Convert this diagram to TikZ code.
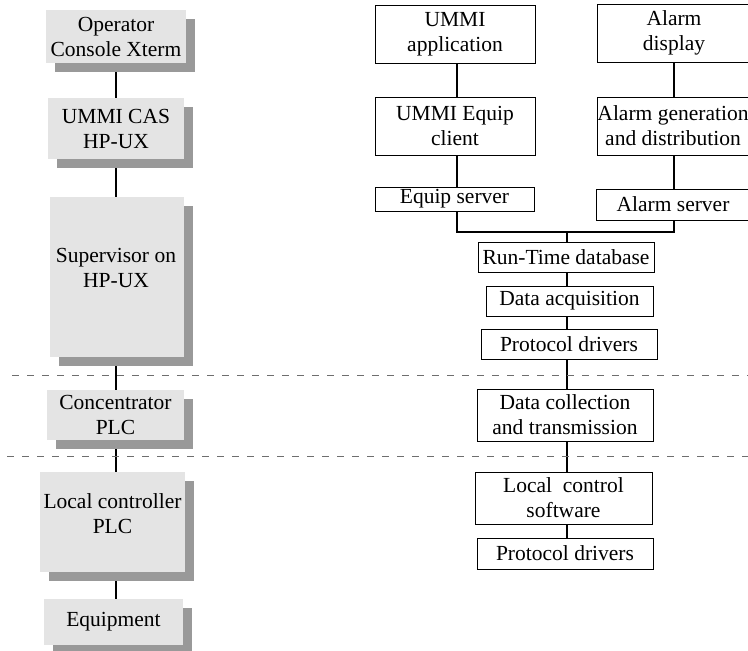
\documentclass[tikz,border=0pt]{standalone}
\usepackage{fontspec}
\setmainfont{Liberation Serif}
\usetikzlibrary{shadows,backgrounds}
\definecolor{boxgray}{HTML}{E4E4E4}
\definecolor{shadgray}{HTML}{999999}
\definecolor{dashgray}{HTML}{6E6E6E}
\tikzset{
  hwbox/.style={fill=boxgray, draw=none, inner sep=0pt, align=center,
    drop shadow={shadow xshift=9pt, shadow yshift=-9pt, fill=shadgray, opacity=1}},
  swbox/.style={draw=black, line width=0.9pt, fill=white, inner sep=0pt, align=center},
  link/.style={line width=1.6pt},
  sep/.style={draw=dashgray, line width=0.9pt, dash pattern=on 7pt off 8pt},
  lbl/.style={inner sep=0pt, align=center}
}
\begin{document}
\begin{tikzpicture}[x=1pt,y=-1pt,font=\fontsize{21.5}{25}\selectfont]
\useasboundingbox (0,0) rectangle (748,651);
% spines
\coordinate (lsp) at (116,0);
\coordinate (usp) at (457,0);
\coordinate (asp) at (674,0);
\coordinate (csp) at (567,0);
% left column (hardware)
\node[hwbox, minimum width=140pt, minimum height=53pt] (L1) at (116,36.5) {Operator\\Console Xterm};
\node[hwbox, minimum width=136pt, minimum height=61pt] (L2) at (116,128.5) {UMMI CAS\\HP-UX};
\node[hwbox, minimum width=134pt, minimum height=160pt] (L3) at (117,277) {};
\node[lbl] (L3t) at (116,268) {Supervisor on\\HP-UX};
\node[hwbox, minimum width=137pt, minimum height=50pt] (L4) at (115.5,415) {Concentrator\\PLC};
\node[hwbox, minimum width=145pt, minimum height=100pt] (L5) at (112.5,522) {};
\node[lbl] (L5t) at (112.5,514) {Local controller\\PLC};
\node[hwbox, minimum width=139pt, minimum height=46pt] (L6) at (113.5,622) {Equipment};
% right column (software)
\node[swbox, minimum width=160pt, minimum height=58pt] (R1) at (455,34) {UMMI\\application};
\node[swbox, minimum width=160pt, minimum height=58pt] (R2) at (455,126) {UMMI Equip\\client};
\node[swbox, minimum width=159pt, minimum height=24pt] (R3) at (454.5,199) {Equip server};
\node[swbox, minimum width=156pt, minimum height=58pt] (A1) at (675,33) {};
\node[lbl] (A1t) at (674,33) {Alarm\\display};
\node[swbox, minimum width=156pt, minimum height=58pt] (A2) at (675,126) {};
\node[lbl] (A2t) at (673,126) {Alarm generation\\and distribution};
\node[swbox, minimum width=157pt, minimum height=31pt] (A3) at (674.5,204.5) {};
\node[lbl] (A3t) at (673,204.5) {Alarm server};
\coordinate (bus) at (567,232);
\node[swbox, minimum width=176pt, minimum height=30pt] (RT) at (566,257) {Run-Time database};
\node[swbox, minimum width=167pt, minimum height=30pt] (DA) at (569.5,301) {Data acquisition};
\node[swbox, minimum width=176pt, minimum height=30pt] (PD) at (569,344) {Protocol drivers};
\node[swbox, minimum width=176pt, minimum height=52pt] (DC) at (565,415) {Data collection\\and transmission};
\node[swbox, minimum width=177pt, minimum height=52pt] (LC) at (563.5,498) {Local\ \ control\\software};
\node[swbox, minimum width=176pt, minimum height=31pt] (PD2) at (565,553.5) {Protocol drivers};
% connectors
\begin{scope}[on background layer]
\draw[link] (L1.south -| lsp) -- (L2.north -| lsp);
\draw[link] (L2.south -| lsp) -- (L3.north -| lsp);
\draw[link] (L3.south -| lsp) -- (L4.north -| lsp);
\draw[link] (L4.south -| lsp) -- (L5.north -| lsp);
\draw[link] (L5.south -| lsp) -- (L6.north -| lsp);
\end{scope}
\draw[link] (R1.south -| usp) -- (R2.north -| usp);
\draw[link] (R2.south -| usp) -- (R3.north -| usp);
\draw[link] (A1.south -| asp) -- (A2.north -| asp);
\draw[link] (A2.south -| asp) -- (A3.north -| asp);
\draw[link] (R3.south -| usp) |- (bus) -| (A3.south -| asp);
\draw[link] (bus) -- (RT.north -| csp);
\draw[link] (RT.south -| csp) -- (DA.north -| csp);
\draw[link] (DA.south -| csp) -- (PD.north -| csp);
\draw[link] (PD.south -| csp) -- (DC.north -| csp);
\draw[link] (DC.south -| csp) -- (LC.north -| csp);
\draw[link] (LC.south -| csp) -- (PD2.north -| csp);
% separators
\coordinate (s1a) at (12,375);
\coordinate (s1b) at (748,375);
\coordinate (s2a) at (7,456);
\coordinate (s2b) at (748,456);
\draw[sep] (s1a) -- (s1b);
\draw[sep] (s2a) -- (s2b);
\end{tikzpicture}
\end{document}
